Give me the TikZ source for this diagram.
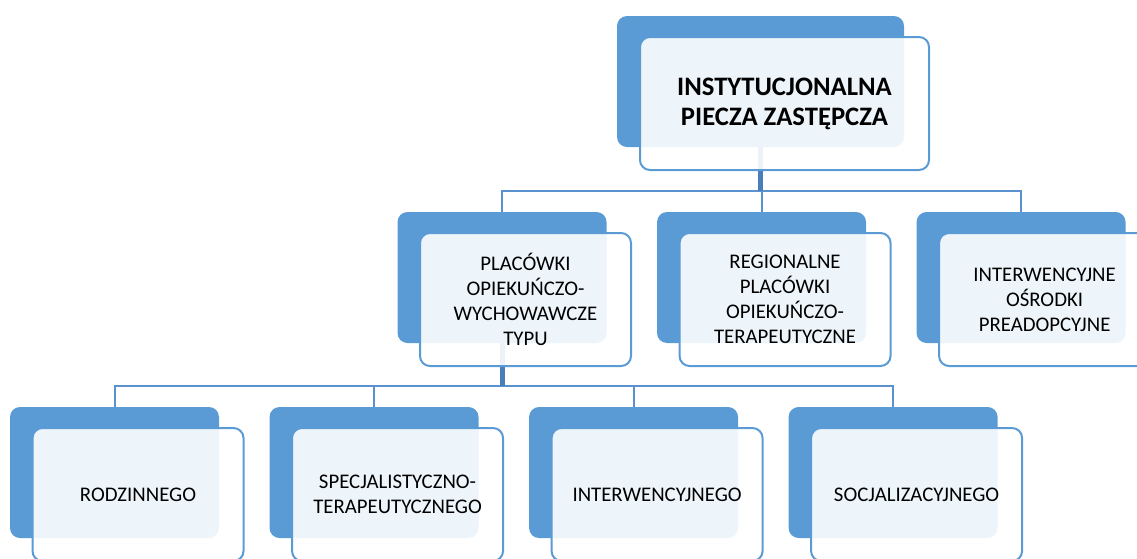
\documentclass[tikz,border=0pt]{standalone}
\usepackage{fontspec}
\setmainfont{Carlito}
\usetikzlibrary{positioning,backgrounds}
\definecolor{boxblue}{HTML}{5B9BD5}
\definecolor{lineblue}{HTML}{5A92CF}
\definecolor{trunkblue}{HTML}{4A7EBB}

\begin{document}
\begin{tikzpicture}
        [
            x = 0.75pt, y = -0.75pt,
            back/.style = {rectangle, rounded corners=7.5pt, fill=boxblue, inner sep=0pt,
                minimum width=156.75pt, minimum height=98.25pt},
            front/.style = {rectangle, rounded corners=7.5pt, draw=boxblue, line width=1.5pt,
                fill=white, fill opacity=0.9, text opacity=1, inner sep=0pt, align=center,
                minimum width=158.25pt, minimum height=99.75pt,
                font=\fontsize{15.6}{18.75}\selectfont},
            link/.style = {draw=lineblue, line width=1.5pt},
            trunk/.style = {draw=trunkblue, line width=3.75pt},
        ]
        \useasboundingbox (0,0) rectangle (1137,558);
        \clip (0,0) rectangle (1137,558);

        \node[back, minimum width=215.25pt] (piecza-b) at (760.5,81.5) {};
        \node[front, minimum width=216.75pt, font=\fontsize{20}{22.5}\selectfont\bfseries]
            (piecza) at ([shift={(24,22)}]piecza-b.center) {INSTYTUCJONALNA\\PIECZA ZASTĘPCZA};

        \node[back] (placowki-b) at (502,277.5) {};
        \node[back, right=37.5pt of placowki-b] (regionalne-b) {};
        \node[back, right=37.5pt of regionalne-b] (osrodki-b) {};
        \node[front] (placowki) at ([shift={(23.5,22)}]placowki-b.center)
            {PLACÓWKI\\OPIEKUŃCZO-\\WYCHOWAWCZE\\TYPU};
        \node[front] (regionalne) at ([shift={(23.5,22)}]regionalne-b.center)
            {REGIONALNE\\PLACÓWKI\\OPIEKUŃCZO-\\TERAPEUTYCZNE};
        \node[front] (osrodki) at ([shift={(23.5,22)}]osrodki-b.center)
            {INTERWENCYJNE\\OŚRODKI\\PREADOPCYJNE};

        \node[back] (rodzinnego-b) at (114.5,472.5) {};
        \node[back, right=37.5pt of rodzinnego-b] (specjal-b) {};
        \node[back, right=37.5pt of specjal-b] (interw-b) {};
        \node[back, right=37.5pt of interw-b] (socjal-b) {};
        \node[front] (rodzinnego) at ([shift={(23.5,22)}]rodzinnego-b.center) {RODZINNEGO};
        \node[front] (specjal) at ([shift={(23.5,22)}]specjal-b.center)
            {SPECJALISTYCZNO-\\TERAPEUTYCZNEGO};
        \node[front] (interw) at ([shift={(23.5,22)}]interw-b.center) {INTERWENCYJNEGO};
        \node[front] (socjal) at ([shift={(23.5,22)}]socjal-b.center) {SOCJALIZACYJNEGO};

        \begin{pgfonlayer}{background}
            \coordinate (bus1) at (0,190.5);
            \coordinate (bus2) at (0,386);
            \draw[link] (placowki-b.north) |- (piecza-b.south |- bus1);
            \draw[link] (regionalne-b.north) |- (piecza-b.south |- bus1);
            \draw[link] (osrodki-b.north) |- (piecza-b.south |- bus1);
            \draw[trunk] (piecza-b.south) -- (piecza-b.south |- bus1);
            \draw[link] (rodzinnego-b.north) |- (placowki-b.south |- bus2);
            \draw[link] (specjal-b.north) |- (placowki-b.south |- bus2);
            \draw[link] (interw-b.north) |- (placowki-b.south |- bus2);
            \draw[link] (socjal-b.north) |- (placowki-b.south |- bus2);
            \draw[trunk] (placowki-b.south) -- (placowki-b.south |- bus2);
        \end{pgfonlayer}
    \end{tikzpicture}
\end{document}
